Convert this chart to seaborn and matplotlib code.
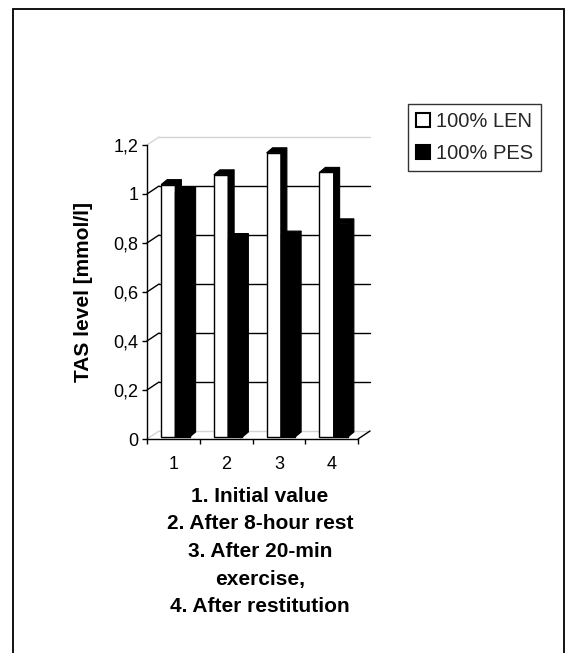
import matplotlib
matplotlib.use("Agg")
import matplotlib.pyplot as plt
from matplotlib.patches import Polygon, Rectangle
from matplotlib.lines import Line2D
import pandas as pd
import seaborn as sns

# Data
categories = ["1", "2", "3", "4"]
len_values = [1.03, 1.07, 1.16, 1.08]
pes_values = [1.00, 0.81, 0.82, 0.87]
series_names = ["100% LEN", "100% PES"]
y_ticks = [0, 0.2, 0.4, 0.6, 0.8, 1.0, 1.2]
y_tick_labels = ["0", "0,2", "0,4", "0,6", "0,8", "1", "1,2"]
y_title = "TAS level [mmol/l]"
caption_lines = [
    "1. Initial value",
    "2. After 8-hour rest",
    "3. After 20-min",
    "exercise,",
    "4. After restitution",
]

df = pd.DataFrame({
    "stage": categories * 2,
    "tas": len_values + pes_values,
    "group": [series_names[0]] * len(categories) + [series_names[1]] * len(categories),
})

sns.set_theme(style="white")
plt.rcParams["font.family"] = ["Liberation Sans", "DejaVu Sans"]

W, H, DPI = 565, 653, 100
fig = plt.figure(figsize=(W / DPI, H / DPI), dpi=DPI)
fig.patch.set_facecolor("white")

# front plane of the pseudo-3D box, in pixels
left_px, right_px, top_px, bottom_px = 147, 358, 145, 439
ax = fig.add_axes([left_px / W, 1 - bottom_px / H,
                   (right_px - left_px) / W, (bottom_px - top_px) / H])

sns.barplot(data=df, x="stage", y="tas", hue="group",
            palette=["white", "black"], saturation=1, width=0.54,
            edgecolor="black", linewidth=1.0, errorbar=None, ax=ax)

ax.set_xlim(-0.5, len(categories) - 0.5)
ax.set_ylim(0, 1.2)
ppx = (right_px - left_px) / (len(categories))   # pixels per category
ppy = (bottom_px - top_px) / 1.2                  # pixels per unit

# depth of the box (back wall offset) and of the bars
wall_dx, wall_dy = 12 / ppx, 8 / ppy
bar_dx, bar_dy = 2 / ppx, 2 / ppy
ext_dx, ext_dy = 6 / ppx, 5 / ppy

x_lo, x_hi = ax.get_xlim()

# back wall gridlines and wall edges
for yv in y_ticks:
    faint = yv in (0, 1.2)
    col = "#d4d4d4" if faint else "black"
    ax.add_line(Line2D([x_lo + wall_dx, x_hi + wall_dx], [yv + wall_dy, yv + wall_dy],
                       color=col, lw=1.0, zorder=0.5, clip_on=False))
    ax.add_line(Line2D([x_lo, x_lo + wall_dx], [yv, yv + wall_dy],
                       color=col, lw=1.0, zorder=0.5, clip_on=False))
ax.add_line(Line2D([x_hi, x_hi + wall_dx], [0, wall_dy],
                   color="black", lw=1.0, zorder=0.5, clip_on=False))

# extrude the bars into 3D columns
bars = [p for p in ax.patches if isinstance(p, Rectangle)]
bars.sort(key=lambda p: p.get_x())
for i, p in enumerate(bars):
    x0 = p.get_x() + bar_dx
    w = p.get_width()
    h = p.get_height()
    p.set_x(x0)
    p.set_y(bar_dy)
    p.set_clip_on(False)
    z = 2 + i
    p.set_zorder(z)
    top = bar_dy + h
    ax.add_patch(Polygon([(x0, top), (x0 + w, top), (x0 + w + ext_dx, top + ext_dy),
                          (x0 + ext_dx, top + ext_dy)], closed=True,
                         facecolor="black", edgecolor="black", lw=0.8,
                         zorder=z + 0.1, clip_on=False))
    ax.add_patch(Polygon([(x0 + w, bar_dy), (x0 + w + ext_dx, bar_dy + ext_dy),
                          (x0 + w + ext_dx, top + ext_dy), (x0 + w, top)], closed=True,
                         facecolor="black", edgecolor="black", lw=0.8,
                         zorder=z + 0.1, clip_on=False))

# axes, ticks and labels
for side in ("top", "right"):
    ax.spines[side].set_visible(False)
for side in ("left", "bottom"):
    ax.spines[side].set_color("black")
    ax.spines[side].set_linewidth(1.0)
    ax.spines[side].set_zorder(1)

ax.set_yticks(y_ticks, labels=y_tick_labels)
ax.set_xticks([k - 0.5 for k in range(len(categories) + 1)], labels=[""] * (len(categories) + 1))
ax.set_xticks(range(len(categories)), labels=categories, minor=True)
ax.tick_params(axis="y", which="major", left=True, direction="out", length=3.6,
               width=1.0, color="black", pad=2.5, labelsize=13, labelcolor="black")
ax.tick_params(axis="x", which="major", bottom=True, direction="out", length=3.6,
               width=1.0, color="black")
ax.tick_params(axis="x", which="minor", bottom=True, length=0, pad=12.5,
               labelsize=13, labelcolor="black")

ax.set_ylabel(y_title, fontsize=15, fontweight="bold", color="black")
ax.yaxis.set_label_coords(-0.255, 0.5)
ax.set_xlabel("\n".join(caption_lines), fontsize=15, fontweight="bold",
              color="black", linespacing=1.58, ha="center")
ax.xaxis.set_label_coords(0.535, -0.162)

# legend
handles, labels = ax.get_legend_handles_labels()
if ax.get_legend() is not None:
    ax.get_legend().remove()
for hnd in handles:
    hnd.set_edgecolor("black")
    hnd.set_linewidth(1.5)
leg = ax.legend(handles, labels, loc="upper left",
                bbox_to_anchor=(408 / W, 1 - 104 / H), bbox_transform=fig.transFigure,
                frameon=True, fancybox=False, shadow=False, framealpha=1,
                edgecolor="#333333", fontsize=14.5, handlelength=0.7, handleheight=0.7,
                handletextpad=0.3, borderpad=0.4, labelspacing=0.64, borderaxespad=0)
leg.get_frame().set_linewidth(1.0)

# outer chart frame
fig.add_artist(Rectangle((13 / W, -0.05), (564 - 13) / W, (1 - 9 / H) + 0.05,
                         transform=fig.transFigure, fill=False,
                         edgecolor="black", lw=1.3))

fig.savefig("out.png", dpi=DPI, facecolor="white")
